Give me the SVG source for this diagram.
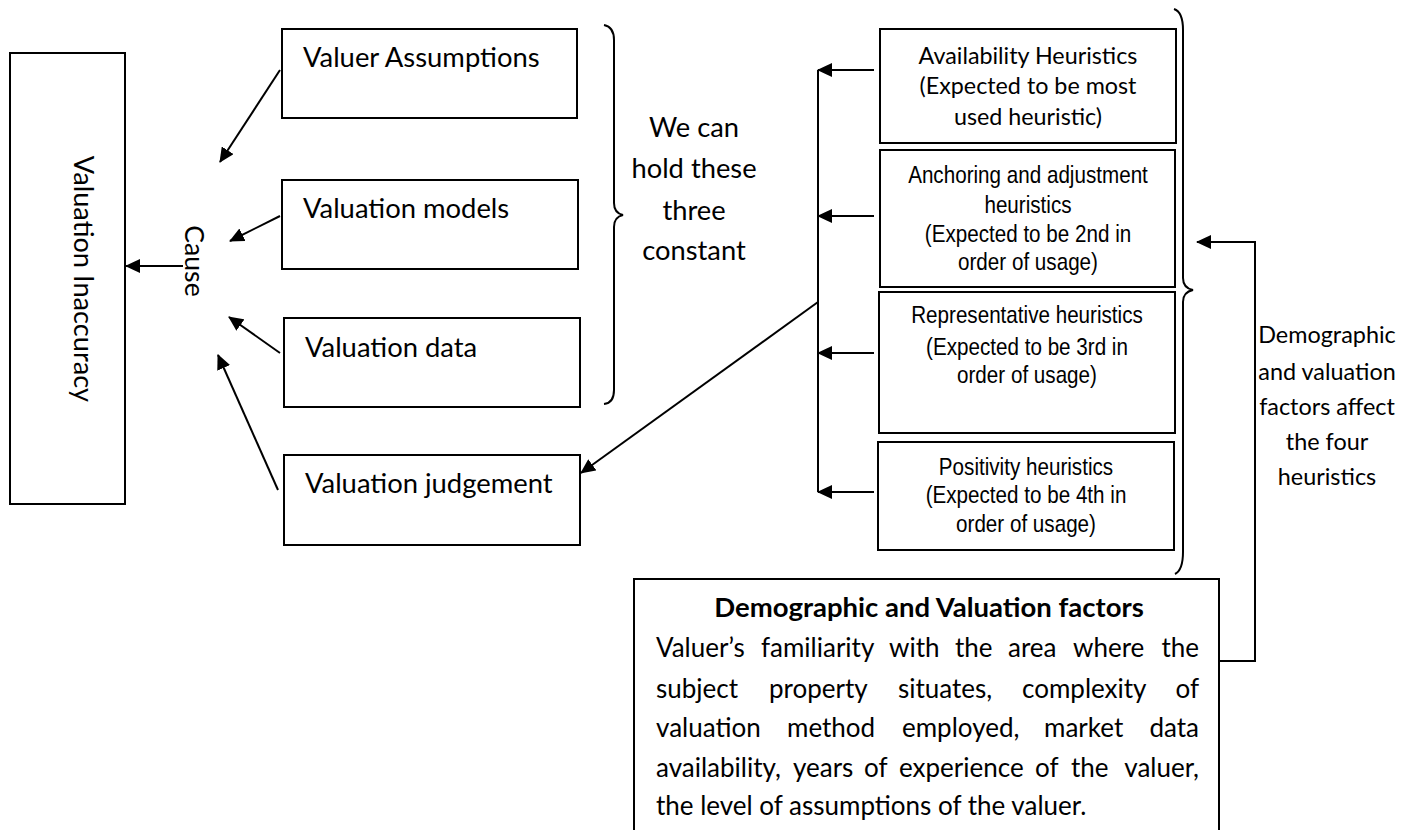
<svg xmlns="http://www.w3.org/2000/svg" width="1415" height="830" viewBox="0 0 1415 830">
<defs>
<marker id="ah" markerUnits="userSpaceOnUse" markerWidth="15" markerHeight="14" refX="14" refY="7" orient="auto">
<path d="M0,0 L15,7 L0,14 z" fill="#000"/>
</marker>
<style>
.box{fill:#fff;stroke:#000;stroke-width:2}
.cal{font-family:Lato,"Open Sans",sans-serif;fill:#000}
.nar{font-family:"Liberation Sans",Arial,sans-serif;fill:#000;font-size:24px;text-anchor:middle}
.ln{fill:none;stroke:#000;stroke-width:2}
.arr{fill:none;stroke:#000;stroke-width:2;marker-end:url(#ah)}
.end{text-anchor:end}
</style>
</defs>
<rect width="1415" height="830" fill="#fff"/>

<g id="valuation-inaccuracy">
<rect class="box" x="10" y="53" width="115" height="451"/>
<text class="cal" font-size="27.2" text-anchor="middle" transform="translate(74,279) rotate(90)">Valuation Inaccuracy</text>
</g>

<g id="cause">
<text class="cal" font-size="26.6" text-anchor="middle" transform="translate(185,261) rotate(90)">Cause</text>
</g>

<g id="valuer-assumptions">
<rect class="box" x="282" y="29" width="295" height="89"/>
<text class="cal" font-size="27.4" x="303" y="67">Valuer Assumptions</text>
</g>
<g id="valuation-models">
<rect class="box" x="282" y="180" width="296" height="89"/>
<text class="cal" font-size="27.4" x="303" y="218">Valuation models</text>
</g>
<g id="valuation-data">
<rect class="box" x="284" y="318" width="296" height="89"/>
<text class="cal" font-size="27.4" x="305" y="357">Valuation data</text>
</g>
<g id="valuation-judgement">
<rect class="box" x="284" y="455" width="296" height="90"/>
<text class="cal" font-size="27.4" x="305" y="493">Valuation judgement</text>
</g>

<g id="brace-three">
<path class="ln" d="M604,25 Q614,27 614,40 L614,203 Q614,213 623,215 Q614,217 614,227 L614,390 Q614,403 604,404"/>
</g>
<g id="hold-constant">
<text class="cal" font-size="27.3" text-anchor="middle" x="694" y="137">We can</text>
<text class="cal" font-size="27.3" text-anchor="middle" x="694" y="178">hold these</text>
<text class="cal" font-size="27.3" text-anchor="middle" x="694" y="220">three</text>
<text class="cal" font-size="27.3" text-anchor="middle" x="694" y="260">constant</text>
</g>

<g id="availability">
<rect class="box" x="880" y="29" width="296" height="114"/>
<text class="cal" font-size="23.3" text-anchor="middle" x="1028" y="64">Availability Heuristics</text>
<text class="cal" font-size="23.3" text-anchor="middle" x="1028" y="94">(Expected to be most</text>
<text class="cal" font-size="23.3" text-anchor="middle" x="1028" y="125">used heuristic)</text>
</g>
<g id="anchoring">
<rect class="box" x="880" y="150" width="295" height="137"/>
<g transform="matrix(0.86,0,0,1,143.92,0)">
<text class="nar" x="1028" y="183">Anchoring and adjustment</text>
<text class="nar" x="1028" y="213">heuristics</text>
<text class="nar" x="1028" y="242">(Expected to be 2nd in</text>
<text class="nar" x="1028" y="270">order of usage)</text>
</g>
</g>
<g id="representative">
<rect class="box" x="879" y="292" width="296" height="141"/>
<g transform="matrix(0.86,0,0,1,143.78,0)">
<text class="nar" x="1027" y="323">Representative heuristics</text>
<text class="nar" x="1027" y="355">(Expected to be 3rd in</text>
<text class="nar" x="1027" y="383">order of usage)</text>
</g>
</g>
<g id="positivity">
<rect class="box" x="878" y="442" width="296" height="108"/>
<g transform="matrix(0.86,0,0,1,143.64,0)">
<text class="nar" x="1026" y="475">Positivity heuristics</text>
<text class="nar" x="1026" y="503">(Expected to be 4th in</text>
<text class="nar" x="1026" y="532">order of usage)</text>
</g>
</g>

<g id="brace-four">
<path class="ln" d="M1174,9 Q1183,12 1183,30 L1183,278 Q1183,288 1193,290 Q1183,292 1183,302 L1183,552 Q1183,570 1175,574"/>
</g>

<g id="affect-label">
<text class="cal" font-size="23.4" text-anchor="middle" x="1327" y="343">Demographic</text>
<text class="cal" font-size="23.4" text-anchor="middle" x="1327" y="380">and valuation</text>
<text class="cal" font-size="23.4" text-anchor="middle" x="1327" y="415">factors affect</text>
<text class="cal" font-size="23.4" text-anchor="middle" x="1327" y="450">the four</text>
<text class="cal" font-size="23.4" text-anchor="middle" x="1327" y="485">heuristics</text>
</g>

<g id="demographic-factors">
<path class="box" d="M634,832 L634,579 L1219,579 L1219,832"/>
<text class="cal" font-size="27.5" font-weight="bold" text-anchor="middle" x="929" y="617">Demographic and Valuation factors</text>
<text class="cal" font-size="26" y="657"><tspan x="656">Valuer’s</tspan><tspan x="761">familiarity</tspan><tspan x="889">with</tspan><tspan x="955">the</tspan><tspan x="1008">area</tspan><tspan x="1073">where</tspan><tspan class="end" x="1199">the</tspan></text>
<text class="cal" font-size="26" y="698"><tspan x="656">subject</tspan><tspan x="769">property</tspan><tspan x="898">situates,</tspan><tspan x="1022">complexity</tspan><tspan class="end" x="1199">of</tspan></text>
<text class="cal" font-size="26" y="737"><tspan x="656">valuation</tspan><tspan x="787">method</tspan><tspan x="902">employed,</tspan><tspan x="1044">market</tspan><tspan class="end" x="1199">data</tspan></text>
<text class="cal" font-size="26" y="777"><tspan x="656">availability,</tspan><tspan x="793">years</tspan><tspan x="864">of</tspan><tspan x="899">experience</tspan><tspan x="1035">of</tspan><tspan x="1071">the</tspan><tspan class="end" x="1199">valuer,</tspan></text>
<text class="cal" font-size="26" x="656" y="815">the level of assumptions of the valuer.</text>
</g>

<g id="connectors">
<path class="arr" d="M183,266 L126,266"/>
<path class="arr" d="M280,70 L220,162"/>
<path class="arr" d="M280,216 L230,241"/>
<path class="arr" d="M280,353 L229,317"/>
<path class="arr" d="M278,490 L218,355"/>
<path class="ln" d="M818,70 L818,492"/>
<path class="arr" d="M874,70 L818,70"/>
<path class="arr" d="M874,216 L818,216"/>
<path class="arr" d="M874,353 L818,353"/>
<path class="arr" d="M874,492 L818,492"/>
<path class="arr" d="M818,302 L581,473"/>
<path class="ln" d="M1219,661 L1255,661 L1255,242 L1238,242"/>
<path class="arr" d="M1255,242 L1197,242"/>
</g>
</svg>
